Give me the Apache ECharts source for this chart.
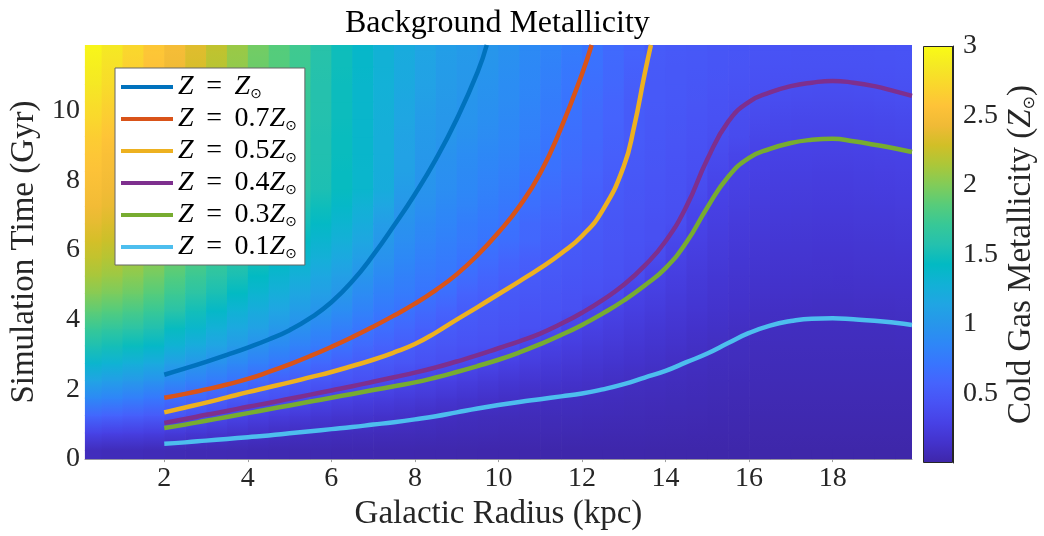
<!DOCTYPE html>
<html>
<head>
<meta charset="utf-8">
<script src="https://cdn.jsdelivr.net/npm/echarts@6/dist/echarts.min.js"></script>
<style>
  html, body { margin: 0; background: #fff; }
  #main { width: 1044px; height: 536px; }
</style>
</head>
<body>
<div id="main"></div>
<script>
// bin centres of the background map (kpc, Gyr)
const radiusBins = [0.25, 0.75, 1.25, 1.75, 2.25, 2.75, 3.25, 3.75, 4.25, 4.75, 5.25, 5.75, 6.25, 6.75, 7.25, 7.75, 8.25, 8.75, 9.25, 9.75,
  10.25, 10.75, 11.25, 11.75, 12.25, 12.75, 13.25, 13.75, 14.25, 14.75, 15.25, 15.75, 16.25, 16.75, 17.25, 17.75, 18.25, 18.75, 19.25, 19.75];
const timeBins = [0.25, 0.75, 1.25, 1.75, 2.25, 2.75, 3.25, 3.75, 4.25, 4.75, 5.25, 5.75, 6.25, 6.75, 7.25, 7.75, 8.25, 8.75, 9.25, 9.75, 10.25, 10.75, 11.25, 11.75];

// cold gas metallicity (Z_sun), one row per time bin
const metallicity = [
  [0.08, 0.07, 0.07, 0.06, 0.055, 0.05, 0.047, 0.043, 0.04, 0.037, 0.034, 0.031, 0.029, 0.027, 0.025, 0.023, 0.021, 0.02, 0.018, 0.017,
   0.016, 0.015, 0.014, 0.014, 0.013, 0.012, 0.011, 0.01, 0.01, 0.009, 0.008, 0.008, 0.007, 0.007, 0.006, 0.006, 0.006, 0.006, 0.006, 0.006],
  [0.3, 0.28, 0.27, 0.25, 0.22, 0.19, 0.17, 0.15, 0.13, 0.11, 0.1, 0.093, 0.087, 0.082, 0.077, 0.072, 0.068, 0.063, 0.058, 0.054,
   0.05, 0.047, 0.045, 0.042, 0.04, 0.037, 0.035, 0.032, 0.03, 0.028, 0.026, 0.024, 0.022, 0.021, 0.02, 0.019, 0.019, 0.019, 0.019, 0.02],
  [0.6, 0.57, 0.54, 0.5, 0.45, 0.41, 0.36, 0.31, 0.27, 0.24, 0.22, 0.19, 0.17, 0.16, 0.145, 0.13, 0.113, 0.1, 0.09, 0.083,
   0.078, 0.075, 0.071, 0.068, 0.064, 0.06, 0.056, 0.052, 0.048, 0.044, 0.039, 0.036, 0.033, 0.032, 0.031, 0.031, 0.031, 0.032, 0.032, 0.033],
  [0.88, 0.84, 0.79, 0.74, 0.66, 0.6, 0.54, 0.49, 0.44, 0.415, 0.38, 0.33, 0.29, 0.265, 0.245, 0.225, 0.205, 0.18, 0.16, 0.14,
   0.122, 0.11, 0.101, 0.096, 0.09, 0.084, 0.078, 0.072, 0.066, 0.06, 0.055, 0.05, 0.047, 0.045, 0.044, 0.043, 0.043, 0.044, 0.044, 0.045],
  [1.13, 1.08, 1.03, 0.97, 0.89, 0.82, 0.76, 0.7, 0.63, 0.55, 0.5, 0.47, 0.44, 0.415, 0.385, 0.34, 0.305, 0.275, 0.245, 0.22,
   0.195, 0.176, 0.16, 0.145, 0.13, 0.115, 0.104, 0.094, 0.085, 0.077, 0.071, 0.065, 0.06, 0.058, 0.057, 0.056, 0.056, 0.057, 0.057, 0.058],
  [1.35, 1.31, 1.26, 1.2, 1.09, 1.02, 0.95, 0.88, 0.8, 0.74, 0.68, 0.61, 0.55, 0.51, 0.475, 0.45, 0.42, 0.395, 0.36, 0.32,
   0.28, 0.245, 0.22, 0.2, 0.178, 0.158, 0.142, 0.125, 0.11, 0.097, 0.087, 0.08, 0.074, 0.071, 0.069, 0.068, 0.068, 0.069, 0.07, 0.071],
  [1.55, 1.51, 1.46, 1.4, 1.3, 1.21, 1.13, 1.05, 0.96, 0.89, 0.82, 0.76, 0.69, 0.62, 0.56, 0.52, 0.48, 0.45, 0.43, 0.415,
   0.39, 0.32, 0.277, 0.25, 0.228, 0.205, 0.182, 0.16, 0.14, 0.12, 0.104, 0.094, 0.086, 0.083, 0.081, 0.08, 0.08, 0.081, 0.082, 0.084],
  [1.72, 1.68, 1.63, 1.56, 1.45, 1.36, 1.27, 1.18, 1.1, 1.02, 0.95, 0.87, 0.79, 0.72, 0.66, 0.6, 0.55, 0.505, 0.47, 0.45,
   0.43, 0.415, 0.397, 0.31, 0.276, 0.245, 0.22, 0.195, 0.17, 0.145, 0.125, 0.11, 0.1, 0.096, 0.094, 0.093, 0.093, 0.094, 0.095, 0.097],
  [1.88, 1.84, 1.79, 1.72, 1.61, 1.5, 1.4, 1.3, 1.22, 1.14, 1.06, 0.99, 0.91, 0.82, 0.74, 0.69, 0.63, 0.57, 0.515, 0.48,
   0.46, 0.44, 0.426, 0.41, 0.357, 0.29, 0.258, 0.229, 0.199, 0.175, 0.15, 0.133, 0.12, 0.113, 0.11, 0.108, 0.108, 0.11, 0.112, 0.115],
  [2.02, 1.98, 1.93, 1.85, 1.74, 1.63, 1.53, 1.43, 1.33, 1.25, 1.16, 1.09, 1.01, 0.9, 0.81, 0.76, 0.71, 0.66, 0.575, 0.537,
   0.484, 0.47, 0.452, 0.43, 0.415, 0.388, 0.298, 0.265, 0.23, 0.196, 0.17, 0.155, 0.14, 0.133, 0.13, 0.128, 0.128, 0.13, 0.132, 0.135],
  [2.13, 2.09, 2.03, 1.95, 1.84, 1.73, 1.63, 1.53, 1.43, 1.34, 1.26, 1.17, 1.09, 0.99, 0.89, 0.81, 0.75, 0.72, 0.65, 0.59,
   0.54, 0.5, 0.475, 0.455, 0.44, 0.42, 0.39, 0.3, 0.26, 0.222, 0.192, 0.172, 0.159, 0.153, 0.15, 0.148, 0.147, 0.149, 0.152, 0.155],
  [2.22, 2.18, 2.12, 2.04, 1.93, 1.82, 1.72, 1.62, 1.52, 1.43, 1.35, 1.26, 1.18, 1.08, 0.96, 0.87, 0.8, 0.76, 0.71, 0.65,
   0.59, 0.54, 0.5, 0.48, 0.46, 0.435, 0.41, 0.371, 0.29, 0.248, 0.215, 0.192, 0.179, 0.17, 0.168, 0.166, 0.166, 0.169, 0.172, 0.176],
  [2.3, 2.26, 2.2, 2.11, 2.0, 1.9, 1.8, 1.7, 1.6, 1.51, 1.43, 1.34, 1.26, 1.16, 1.02, 0.92, 0.85, 0.8, 0.75, 0.71,
   0.66, 0.6, 0.535, 0.505, 0.48, 0.45, 0.43, 0.41, 0.338, 0.274, 0.237, 0.213, 0.199, 0.19, 0.187, 0.185, 0.185, 0.188, 0.191, 0.196],
  [2.38, 2.33, 2.27, 2.18, 2.06, 1.97, 1.87, 1.77, 1.68, 1.58, 1.5, 1.41, 1.33, 1.23, 1.07, 0.96, 0.89, 0.84, 0.78, 0.74,
   0.69, 0.615, 0.563, 0.527, 0.495, 0.463, 0.433, 0.412, 0.396, 0.3, 0.26, 0.233, 0.218, 0.21, 0.206, 0.204, 0.204, 0.207, 0.211, 0.216],
  [2.45, 2.4, 2.34, 2.25, 2.12, 2.03, 1.94, 1.84, 1.75, 1.65, 1.56, 1.48, 1.39, 1.29, 1.15, 1.01, 0.94, 0.88, 0.83, 0.78,
   0.73, 0.67, 0.6, 0.56, 0.52, 0.48, 0.45, 0.43, 0.41, 0.34, 0.28, 0.254, 0.239, 0.229, 0.225, 0.223, 0.223, 0.226, 0.23, 0.236],
  [2.5, 2.45, 2.39, 2.3, 2.17, 2.08, 1.99, 1.9, 1.81, 1.72, 1.63, 1.54, 1.45, 1.36, 1.23, 1.06, 0.98, 0.92, 0.87, 0.82,
   0.77, 0.7, 0.64, 0.59, 0.55, 0.495, 0.46, 0.44, 0.42, 0.38, 0.306, 0.274, 0.257, 0.248, 0.244, 0.242, 0.242, 0.245, 0.25, 0.256],
  [2.55, 2.49, 2.41, 2.31, 2.21, 2.11, 2.02, 1.92, 1.83, 1.74, 1.65, 1.55, 1.45, 1.36, 1.24, 1.1, 1.0, 0.94, 0.89, 0.84,
   0.8, 0.74, 0.68, 0.62, 0.57, 0.52, 0.475, 0.45, 0.43, 0.405, 0.34, 0.295, 0.278, 0.266, 0.262, 0.26, 0.26, 0.264, 0.269, 0.276],
  [2.6, 2.53, 2.44, 2.34, 2.25, 2.15, 2.05, 1.95, 1.85, 1.75, 1.66, 1.56, 1.46, 1.37, 1.25, 1.11, 1.02, 0.96, 0.91, 0.87,
   0.83, 0.77, 0.7, 0.64, 0.59, 0.54, 0.49, 0.46, 0.44, 0.415, 0.37, 0.323, 0.298, 0.287, 0.283, 0.281, 0.281, 0.285, 0.29, 0.297],
  [2.65, 2.58, 2.49, 2.39, 2.29, 2.18, 2.08, 1.97, 1.86, 1.77, 1.67, 1.56, 1.46, 1.37, 1.25, 1.12, 1.04, 1.0, 0.95, 0.9,
   0.86, 0.8, 0.72, 0.66, 0.61, 0.555, 0.5, 0.47, 0.45, 0.43, 0.4, 0.37, 0.328, 0.316, 0.308, 0.305, 0.306, 0.311, 0.317, 0.325],
  [2.72, 2.64, 2.54, 2.44, 2.33, 2.22, 2.11, 1.99, 1.88, 1.79, 1.69, 1.57, 1.47, 1.37, 1.26, 1.15, 1.06, 1.01, 0.98, 0.93,
   0.88, 0.82, 0.75, 0.68, 0.62, 0.57, 0.505, 0.48, 0.46, 0.44, 0.42, 0.385, 0.36, 0.345, 0.338, 0.336, 0.336, 0.34, 0.346, 0.356],
  [2.78, 2.7, 2.59, 2.48, 2.36, 2.25, 2.14, 2.01, 1.9, 1.8, 1.7, 1.58, 1.47, 1.37, 1.27, 1.17, 1.09, 1.03, 0.99, 0.95,
   0.9, 0.84, 0.77, 0.7, 0.64, 0.58, 0.51, 0.485, 0.47, 0.45, 0.43, 0.41, 0.392, 0.377, 0.369, 0.366, 0.366, 0.37, 0.377, 0.386],
  [2.85, 2.76, 2.64, 2.52, 2.4, 2.28, 2.16, 2.03, 1.91, 1.82, 1.72, 1.58, 1.47, 1.37, 1.28, 1.19, 1.11, 1.05, 1.01, 0.97,
   0.91, 0.86, 0.79, 0.72, 0.66, 0.6, 0.53, 0.49, 0.475, 0.46, 0.445, 0.43, 0.415, 0.405, 0.4, 0.397, 0.397, 0.4, 0.405, 0.41],
  [2.9, 2.8, 2.68, 2.56, 2.44, 2.32, 2.19, 2.06, 1.93, 1.84, 1.74, 1.59, 1.48, 1.38, 1.29, 1.2, 1.12, 1.06, 1.02, 0.99,
   0.93, 0.87, 0.81, 0.74, 0.68, 0.61, 0.55, 0.495, 0.48, 0.47, 0.455, 0.445, 0.432, 0.424, 0.42, 0.417, 0.417, 0.42, 0.424, 0.43],
  [2.95, 2.85, 2.72, 2.6, 2.48, 2.35, 2.22, 2.08, 1.95, 1.85, 1.75, 1.6, 1.48, 1.38, 1.29, 1.21, 1.14, 1.08, 1.04, 1.0,
   0.95, 0.89, 0.83, 0.77, 0.7, 0.63, 0.57, 0.5, 0.485, 0.475, 0.465, 0.455, 0.445, 0.437, 0.432, 0.43, 0.43, 0.432, 0.436, 0.44]
];

const radiusTicks = [2, 4, 6, 8, 10, 12, 14, 16, 18];
const timeTicks = [0, 2, 4, 6, 8, 10];
const metalTicks = [0.5, 1, 1.5, 2, 2.5, 3];

// contour lines, [radius, time]
const contourSolar = [[2, 2.42], [2.5, 2.6], [3, 2.79], [3.5, 2.99], [4, 3.2], [4.5, 3.43], [5, 3.7], [5.5, 4.05], [6, 4.5],
  [6.5, 5.1], [7, 5.85], [7.5, 6.7], [8, 7.6], [8.5, 8.6], [9, 9.75], [9.5, 11.1], [9.72, 11.88]];
const contour07 = [[2, 1.76], [2.5, 1.87], [3, 2.0], [3.5, 2.14], [4, 2.3], [4.5, 2.5], [5, 2.72], [5.5, 2.96], [6, 3.22], [6.5, 3.5],
  [7, 3.8], [7.5, 4.12], [8, 4.46], [8.5, 4.85], [9, 5.3], [9.5, 5.85], [10, 6.5], [10.5, 7.25], [11, 8.2], [11.5, 9.5],
  [12, 11.05], [12.23, 11.88]];
const contour05 = [[2, 1.34], [2.5, 1.48], [3, 1.62], [3.5, 1.77], [4, 1.92], [4.5, 2.06], [5, 2.2], [5.5, 2.35], [6, 2.5], [6.5, 2.67],
  [7, 2.85], [7.5, 3.06], [8, 3.3], [8.5, 3.63], [9, 4.0], [9.5, 4.36], [10, 4.73], [10.5, 5.1], [11, 5.48], [11.5, 5.9],
  [12, 6.4], [12.5, 7.15], [13, 8.4], [13.25, 9.55], [13.5, 11.05], [13.65, 11.88]];
const contour04 = [[2, 1.04], [2.5, 1.15], [3, 1.27], [3.5, 1.38], [4, 1.5], [4.5, 1.61], [5, 1.73], [5.5, 1.85], [6, 1.97], [6.5, 2.09],
  [7, 2.22], [7.5, 2.35], [8, 2.48], [8.5, 2.63], [9, 2.8], [9.5, 2.98], [10, 3.18], [10.5, 3.38], [11, 3.6], [11.5, 3.88],
  [12, 4.2], [12.5, 4.57], [13, 5.0], [13.5, 5.55], [14, 6.25], [14.5, 7.25], [15, 8.6], [15.5, 9.68], [16, 10.25], [16.5, 10.52],
  [17, 10.7], [17.5, 10.8], [18, 10.85], [18.5, 10.8], [19, 10.7], [19.5, 10.55], [19.9, 10.42]];
const contour03 = [[2, 0.89], [2.5, 0.99], [3, 1.1], [3.5, 1.21], [4, 1.32], [4.5, 1.43], [5, 1.54], [5.5, 1.65], [6, 1.76], [6.5, 1.87],
  [7, 1.98], [7.5, 2.09], [8, 2.2], [8.5, 2.34], [9, 2.5], [9.5, 2.67], [10, 2.85], [10.5, 3.06], [11, 3.3], [11.5, 3.56],
  [12, 3.85], [12.5, 4.18], [13, 4.55], [13.5, 4.98], [14, 5.48], [14.5, 6.22], [15, 7.22], [15.5, 8.1], [16, 8.64], [16.5, 8.9],
  [17, 9.07], [17.5, 9.16], [18, 9.19], [18.5, 9.12], [19, 9.02], [19.5, 8.91], [19.9, 8.81]];
const contour01 = [[2, 0.44], [2.5, 0.48], [3, 0.53], [3.5, 0.58], [4, 0.63], [4.5, 0.68], [5, 0.74], [5.5, 0.8], [6, 0.86], [6.5, 0.92],
  [7, 0.99], [7.5, 1.06], [8, 1.14], [8.5, 1.23], [9, 1.34], [9.5, 1.45], [10, 1.55], [10.5, 1.64], [11, 1.72], [11.5, 1.8],
  [12, 1.88], [12.5, 2.0], [13, 2.15], [13.5, 2.34], [14, 2.53], [14.5, 2.78], [15, 3.03], [15.5, 3.33], [16, 3.62], [16.5, 3.83],
  [17, 3.96], [17.5, 4.03], [18, 4.04], [18.5, 4.01], [19, 3.97], [19.5, 3.91], [19.9, 3.85]];

const contourNames = ['Z = Z⊙', 'Z = 0.7Z⊙', 'Z = 0.5Z⊙', 'Z = 0.4Z⊙', 'Z = 0.3Z⊙', 'Z = 0.1Z⊙'];
const contourColors = ['#0072BD', '#D95319', '#EDB120', '#7E2F8E', '#77AC30', '#4DBEEE'];
const contours = [contourSolar, contour07, contour05, contour04, contour03, contour01];

// parula colormap
const parula = ['#3e26a8', '#4332cb', '#4741e5', '#4852f4', '#4563fd', '#3875fe', '#2e87f7', '#2796eb', '#20a5e3', '#12b1d6', '#02bac3',
  '#24c1ae', '#37c897', '#57cc7a', '#81cc59', '#abc739', '#d1bf27', '#f0ba36', '#fec338', '#fad62d', '#f5e924', '#f9fb15'];

metallicity.forEach(function (row, i) {
  if (row.length !== radiusBins.length) throw new Error('row ' + i + ' has ' + row.length + ' values');
});

const serif = 'Liberation Serif';
const ink = '#262626';

const cells = [];
metallicity.forEach(function (row, i) {
  row.forEach(function (z, j) {
    cells.push([radiusBins[j], timeBins[i], z]);
  });
});
const nCols = radiusBins.length;
const nRows = timeBins.length;
const halfR = (radiusBins[1] - radiusBins[0]) / 2;
const halfT = (timeBins[1] - timeBins[0]) / 2;

// each cell is painted from its own centre up to the centre of the cell above (shading interp in time)
function renderCell(params, api) {
  const idx = params.dataIndexInside;
  const row = Math.floor(idx / nCols);
  const r = api.value(0);
  const t = api.value(1);
  const cs = params.coordSys;
  const box = { x: cs.x, y: cs.y, width: cs.width, height: cs.height };
  const own = api.visual('color');
  const children = [];
  function band(t0, t1, c0, c1) {
    const a = api.coord([r - halfR, t1]);
    const b = api.coord([r + halfR, t0]);
    const shape = echarts.graphic.clipRectByRect(
      { x: a[0], y: a[1] - 0.5, width: b[0] - a[0] + 0.7, height: b[1] - a[1] + 1 }, box);
    if (!shape) return;
    const fill = c0 === c1 ? c0 : new echarts.graphic.LinearGradient(0, 1, 0, 0, [
      { offset: 0, color: c0 }, { offset: 1, color: c1 }
    ]);
    children.push({ type: 'rect', shape: shape, style: { fill: fill } });
  }
  if (row === 0) band(t - halfT, t, own, own);
  if (row < nRows - 1) band(t, timeBins[row + 1], own, api.visual('color', idx + nCols));
  else band(t, t + halfT, own, own);
  return { type: 'group', children: children };
}

const myChart = echarts.init(document.getElementById('main'));

const lineSeries = contours.map(function (pts, k) {
  return {
    name: contourNames[k],
    type: 'line',
    data: pts,
    xAxisIndex: 0,
    yAxisIndex: 0,
    symbol: 'none',
    smooth: 0.5,
    clip: true,
    silent: true,
    z: 3,
    lineStyle: { color: contourColors[k], width: 4.5 },
    itemStyle: { color: contourColors[k] }
  };
});

const option = {
  animation: false,
  title: {
    text: 'Background Metallicity',
    left: 340,
    top: 3,
    textStyle: { fontFamily: serif, fontSize: 32, fontWeight: 'normal', color: '#000' }
  },
  grid: [
    { left: 76, top: 45, width: 836, height: 419 },
    { left: 923, top: 46, width: 30, height: 417 }
  ],
  xAxis: [
    {
      type: 'value', gridIndex: 0, min: 0.1, max: 19.9,
      axisLine: { show: true, lineStyle: { color: '#a0a0a0', width: 1 } },
      axisTick: { show: true, customValues: radiusTicks, length: 3, lineStyle: { color: '#a0a0a0' } },
      axisLabel: { customValues: radiusTicks, fontFamily: serif, fontSize: 28, color: ink, margin: 6 },
      splitLine: { show: false },
      name: 'Galactic Radius (kpc)', nameLocation: 'middle', nameGap: 37,
      nameTextStyle: { fontFamily: serif, fontSize: 33, color: ink }
    },
    { type: 'category', gridIndex: 1, data: ['bar'], show: false }
  ],
  yAxis: [
    {
      type: 'value', gridIndex: 0, min: 0, max: 11.88,
      axisLine: { show: false }, axisTick: { show: false },
      axisLabel: { customValues: timeTicks, fontFamily: serif, fontSize: 28, color: ink, margin: 5 },
      splitLine: { show: false },
      name: 'Simulation Time (Gyr)', nameLocation: 'middle', nameGap: 40, nameRotate: 90,
      nameTextStyle: { fontFamily: serif, fontSize: 33, color: ink }
    },
    {
      type: 'value', gridIndex: 1, min: 0, max: 3, position: 'right',
      axisLine: { show: true, lineStyle: { color: ink, width: 1 } },
      axisTick: { show: true, inside: true, length: 4, customValues: metalTicks, lineStyle: { color: ink } },
      axisLabel: { customValues: metalTicks, fontFamily: serif, fontSize: 28, color: ink, margin: 10 },
      splitLine: { show: false },
      name: 'Cold Gas Metallicity ({i|Z}{s|⊙})', nameLocation: 'middle', nameGap: 52, nameRotate: 90,
      nameTextStyle: {
        fontFamily: serif, fontSize: 33, color: ink,
        rich: {
          i: { fontFamily: serif, fontStyle: 'italic', fontSize: 33, color: ink },
          s: { fontFamily: 'DejaVu Sans', fontSize: 16, color: ink, verticalAlign: 'bottom', lineHeight: 20 }
        }
      }
    }
  ],
  visualMap: {
    type: 'continuous', show: false, min: 0, max: 3, dimension: 2, seriesIndex: 0,
    inRange: { color: parula }
  },
  legend: {
    data: contourNames,
    orient: 'vertical',
    left: 115,
    top: 68,
    padding: [5, 8, 4, 6],
    itemGap: 4,
    itemWidth: 52,
    itemHeight: 4,
    icon: 'rect',
    backgroundColor: '#fff',
    borderColor: '#666',
    borderWidth: 1,
    borderRadius: 0,
    selectedMode: false,
    formatter: function (name) {
      return name.replace(' = ', '\u2009 = \u2009').replace(/Z/g, '{i|Z}').replace('⊙', '{s|⊙}');
    },
    textStyle: {
      fontFamily: serif, fontSize: 28, color: '#000', lineHeight: 28,
      rich: {
        i: { fontFamily: serif, fontStyle: 'italic', fontSize: 28, color: '#000', lineHeight: 28 },
        s: { fontFamily: 'DejaVu Sans', fontSize: 14, color: '#000', verticalAlign: 'bottom', lineHeight: 17 }
      }
    }
  },
  series: [
    {
      type: 'custom',
      xAxisIndex: 0,
      yAxisIndex: 0,
      data: cells,
      renderItem: renderCell,
      silent: true,
      z: 1
    },
    {
      type: 'bar',
      xAxisIndex: 1,
      yAxisIndex: 1,
      data: [metalTicks[metalTicks.length - 1]],
      barWidth: '100%',
      silent: true,
      itemStyle: {
        color: new echarts.graphic.LinearGradient(0, 1, 0, 0, parula.map(function (c, i) {
          return { offset: i / (parula.length - 1), color: c };
        })),
        borderColor: ink,
        borderWidth: 1
      }
    }
  ].concat(lineSeries)
};

option && myChart.setOption(option);
</script>
</body>
</html>
